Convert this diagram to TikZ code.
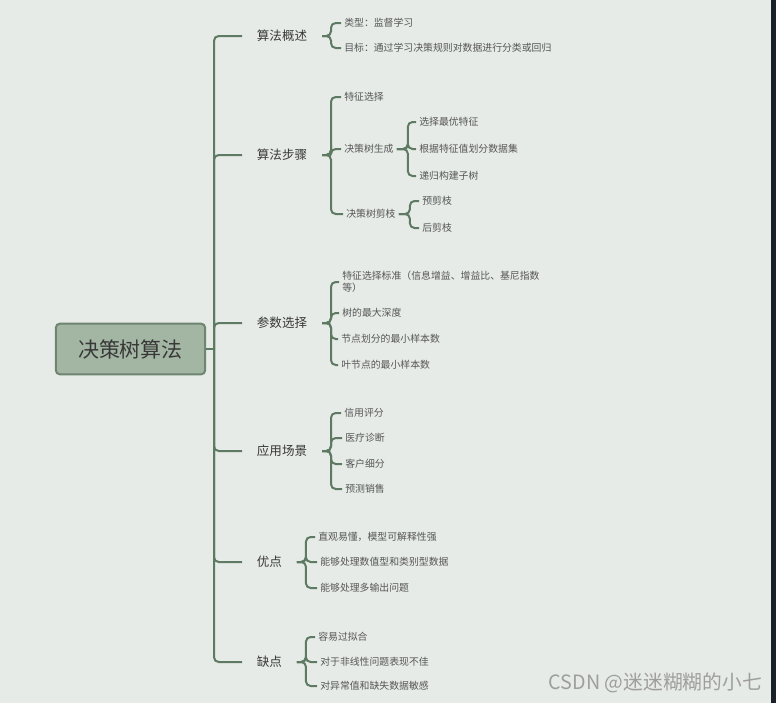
\documentclass[tikz,border=0pt]{standalone}
\usepackage{fontspec}
\setmainfont{Noto Sans CJK SC}
\usepackage{xcolor}
\definecolor{bgc}{HTML}{E6EBE7}
\definecolor{linec}{HTML}{5F7A62}
\definecolor{rootc}{HTML}{A3B5A3}
\definecolor{rootb}{HTML}{6E8570}
\definecolor{txtc}{HTML}{383838}
\definecolor{stripc}{HTML}{1B2129}
\usetikzlibrary{calc}

\begin{document}
\begin{tikzpicture}[x=0.75pt,y=-0.75pt,
link/.style={linec,line width=1.5pt,rounded corners=3.5pt},
root/.style={draw=rootb,fill=rootc,line width=1.5pt,rounded corners=3pt,minimum width=112pt,minimum height=38pt,text=txtc,font=\fontsize{15.75}{18}\selectfont},
topic/.style={anchor=west,inner xsep=11pt,inner ysep=2pt,text=txtc,font=\fontsize{9.4}{11}\selectfont},
leaf/.style={anchor=west,inner xsep=2.25pt,inner ysep=1pt,text=txtc!85!white,align=left,font=\fontsize{7.4}{9}\selectfont}]
\fill[bgc](0,0)rectangle(776,703);
\fill[stripc](771,0)rectangle(776,703);
\useasboundingbox(0,0)rectangle(776,703);
% root and main branches
\node[root](root)at(130.5,349){决策树算法};
\node[topic](s1)at(242,36){算法概述};
\node[topic](s2)at(242,155){算法步骤};
\node[topic](s3)at(242,323){参数选择};
\node[topic](s4)at(242,451){应用场景};
\node[topic](s5)at(242,562){优点};
\node[topic](s6)at(242,662){缺点};
\coordinate(hub)at(214,349);
\draw[link](root.east)--(hub);
\foreach \s in {s1,s2,s3,s4,s5,s6}
  \draw[link](hub)|-(\s.west);
% leaves
\node[leaf](a1)at(341,23){类型：监督学习};
\node[leaf](a2)at(341,48){目标：通过学习决策规则对数据进行分类或回归};
\node[leaf](b1)at(341,97){特征选择};
\node[leaf](b2)at(341,149){决策树生成};
\node[leaf](b3)at(343,214){决策树剪枝};
\node[leaf](b21)at(416,122){选择最优特征};
\node[leaf](b22)at(416,149){根据特征值划分数据集};
\node[leaf](b23)at(416,176){递归构建子树};
\node[leaf](b31)at(419,201){预剪枝};
\node[leaf](b32)at(419,228){后剪枝};
\node[leaf](c1)at(339,282){特征选择标准（信息增益、增益比、基尼指数\\等）};
\node[leaf](c2)at(339,313){树的最大深度};
\node[leaf](c3)at(338,339){节点划分的最小样本数};
\node[leaf](c4)at(338,365){叶节点的最小样本数};
\node[leaf](d1)at(341,413){信用评分};
\node[leaf](d2)at(342,438){医疗诊断};
\node[leaf](d3)at(342,464){客户细分};
\node[leaf](d4)at(342,489){预测销售};
\node[leaf](e1)at(315,537){直观易懂，模型可解释性强};
\node[leaf](e2)at(317,562){能够处理数值型和类别型数据};
\node[leaf](e3)at(317,588){能够处理多输出问题};
\node[leaf](f1)at(315,637){容易过拟合};
\node[leaf](f2)at(317,662){对于非线性问题表现不佳};
\node[leaf](f3)at(317,686){对异常值和缺失数据敏感};
\foreach \p/\c in {s1/a1,s1/a2,s2/b1,s2/b2,s2/b3,s3/c1,s3/c2,s3/c3,s3/c4,
  s4/d1,s4/d2,s4/d3,s4/d4,s5/e1,s5/e2,s5/e3,s6/f1,s6/f2,s6/f3}
  \draw[link](\p.east)--++(9,0)|-(\c.west);
\foreach \p/\c in {b2/b21,b2/b22,b2/b23,b3/b31,b3/b32}
  \draw[link](\p.east)--++(11,0)|-(\c.west);
\node[anchor=east,inner sep=0pt,text=black!38,font=\fontsize{14.8}{17}\selectfont](wm)at(762,683){CSDN @迷迷糊糊的小七};
\end{tikzpicture}
\end{document}
